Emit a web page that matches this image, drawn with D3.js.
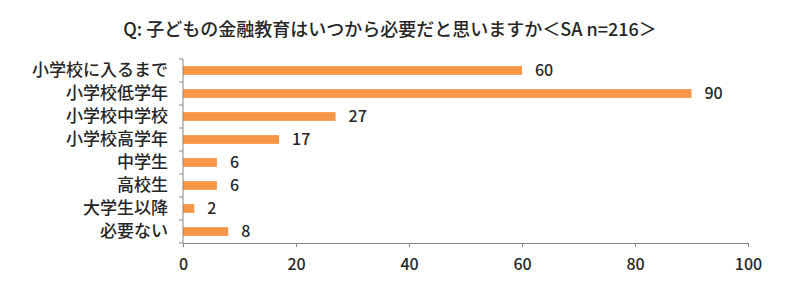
<!DOCTYPE html>
<html>
<head>
<meta charset="utf-8">
<script src="https://cdn.jsdelivr.net/npm/d3@7"></script>
<style>
  body { margin: 0; background: #fff; }
  text { font-family: "Noto Sans CJK JP", "Noto Sans", sans-serif; fill: #262626; font-weight: 500; }
</style>
</head>
<body>
<div class="chart"></div>
<script>
// chart data
const categories = ['小学校に入るまで', '小学校低学年', '小学校中学校', '小学校高学年', '中学生', '高校生', '大学生以降', '必要ない'];
const counts = [60, 90, 27, 17, 6, 6, 2, 8];
const xTicks = [0, 20, 40, 60, 80, 100];
const title = 'Q: 子どもの金融教育はいつから必要だと思いますか＜SA n=216＞';

const width = 800;
const height = 296;
const margin = { top: 59, right: 52, bottom: 53, left: 183 };

const svg = d3.select('.chart')
  .append('svg')
  .attr('width', width)
  .attr('height', height);

const x = d3.scaleLinear()
  .domain([0, 100])
  .range([margin.left, width - margin.right]);

const y = d3.scaleBand()
  .domain(categories)
  .range([margin.top, height - margin.bottom])
  .paddingInner(0.62)
  .paddingOuter(0.31);

// title
svg.append('text')
  .attr('x', 390)
  .attr('y', 36)
  .attr('text-anchor', 'middle')
  .style('font-size', '18px')
  .text(title);

// bars
svg.selectAll('rect.bar')
  .data(counts)
  .enter()
    .append('rect')
    .attr('class', 'bar')
    .attr('x', x(0))
    .attr('y', (d, i) => y(categories[i]))
    .attr('width', d => x(d) - x(0))
    .attr('height', y.bandwidth())
    .attr('fill', '#F79646');

// value labels
svg.selectAll('text.value')
  .data(counts)
  .enter()
    .append('text')
    .attr('class', 'value')
    .attr('x', d => x(d) + 13)
    .attr('y', (d, i) => y(categories[i]) + y.bandwidth() / 2)
    .attr('dy', '0.36em')
    .style('font-size', '16px')
    .text(d => d);

// axes
const xAxis = svg.append('g')
  .attr('transform', `translate(0,${height - margin.bottom})`)
  .call(d3.axisBottom(x).tickValues(xTicks).tickSize(4).tickPadding(12).tickSizeOuter(4));

const yScaleLines = d3.scaleLinear().domain([0, categories.length]).range([margin.top, height - margin.bottom]);
const yAxis = svg.append('g')
  .attr('transform', `translate(${margin.left},0)`)
  .call(d3.axisLeft(y).tickSize(0).tickPadding(15));

// tick marks between categories on the y axis
yAxis.selectAll('line.sep')
  .data(d3.range(categories.length + 1))
  .enter()
    .append('line')
    .attr('class', 'sep')
    .attr('x1', -4)
    .attr('x2', 0)
    .attr('y1', d => yScaleLines(d))
    .attr('y2', d => yScaleLines(d));

[xAxis, yAxis].forEach(g => {
  g.select('.domain').attr('stroke', '#888');
  g.selectAll('line').attr('stroke', '#888');
});
xAxis.selectAll('text').style('font-size', '16px').attr('fill', '#262626');
yAxis.selectAll('text').style('font-size', '17px').attr('fill', '#262626');
yAxis.select('.domain').attr('d', `M0,${margin.top}V${height - margin.bottom}`);
</script>
</body>
</html>
